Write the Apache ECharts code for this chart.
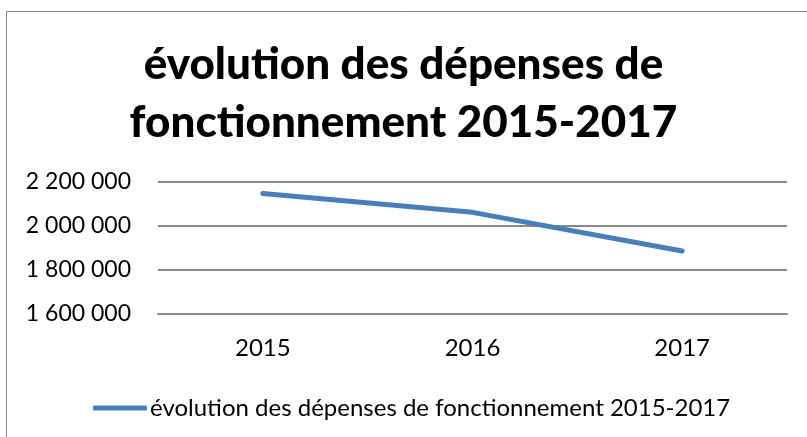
<!DOCTYPE html>
<html><head><meta charset="utf-8">
<script src="https://cdn.jsdelivr.net/npm/echarts@6/dist/echarts.min.js"></script>
<style>html,body{margin:0;padding:0;background:#fff}#c{width:807px;height:437px}</style>
</head><body><div id="c"></div>
<script>
const categories = ['2015', '2016', '2017'];
const seriesName = 'évolution des dépenses de fonctionnement 2015-2017';
const values = [2148000, 2062000, 1886000];
const titleLines = ['évolution des dépenses de', 'fonctionnement 2015-2017'];
const yMin = 1600000, yMax = 2200000, yStep = 200000;

const FONT = 'Lato';
const chart = echarts.init(document.getElementById('c'));
chart.setOption({
  animation: false,
  graphic: [{
    type: 'rect', shape: {x: 6.5, y: 11.5, width: 900, height: 600},
    style: {fill: 'none', stroke: '#888', lineWidth: 1}, silent: true, z: -1
  }],
  title: {
    text: titleLines.join('\n'), left: 'center', top: 31,
    textStyle: {fontFamily: FONT, fontWeight: 900, fontSize: 44, lineHeight: 58, color: '#000'}
  },
  legend: {
    data: [seriesName], bottom: 12, left: 88, itemWidth: 54, itemHeight: 5, itemGap: 2,
    icon: 'roundRect',
    textStyle: {fontFamily: FONT, fontSize: 24, color: '#000', padding: [0, 0, 0, -2]}
  },
  grid: {left: 158, right: 20, top: 182, bottom: 123},
  xAxis: {
    type: 'category', data: categories, boundaryGap: true,
    axisLine: {show: true, lineStyle: {color: '#888', width: 2}},
    axisTick: {show: false},
    axisLabel: {fontFamily: FONT, fontSize: 24, color: '#000', margin: 22}
  },
  yAxis: {
    type: 'value', min: yMin, max: yMax, interval: yStep,
    axisLine: {show: false}, axisTick: {show: false},
    splitLine: {lineStyle: {color: '#888', width: 2}},
    axisLabel: {fontFamily: FONT, fontSize: 23, color: '#000', margin: 27,
      formatter: v => String(v).replace(/\B(?=(\d{3})+(?!\d))/g, ' ')}
  },
  series: [{
    name: seriesName, type: 'line', data: values, symbol: 'none',
    lineStyle: {color: '#4a7ebb', width: 5, cap: 'round'}, itemStyle: {color: '#4a7ebb'}
  }]
});
</script></body></html>
